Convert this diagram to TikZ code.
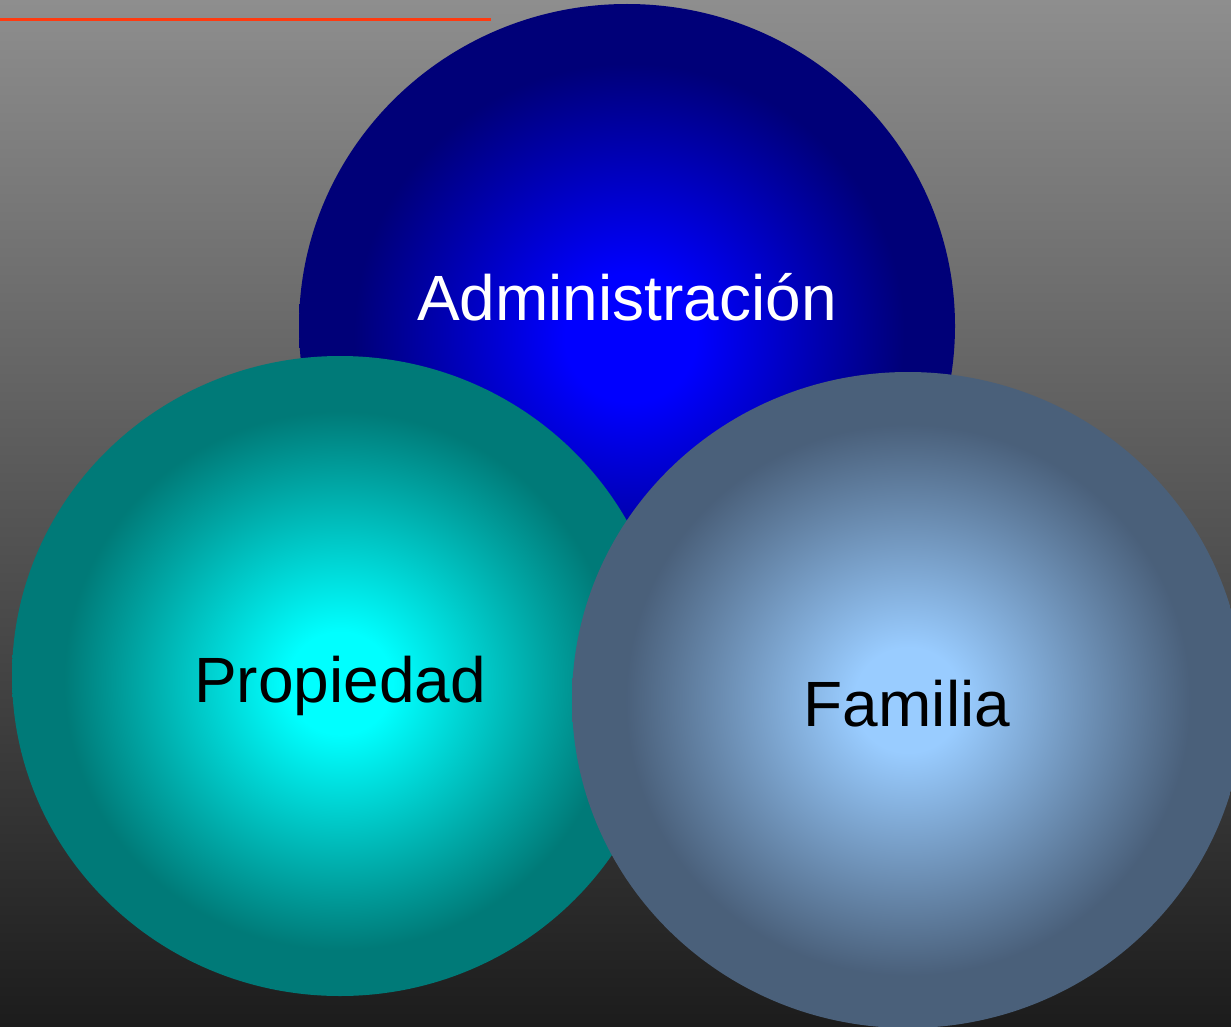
\documentclass[tikz,border=0pt]{standalone}
\usepackage{fontspec}
\setmainfont{Liberation Sans}
\pgfdeclareradialshading{blueball}{\pgfpoint{0.3bp}{-1bp}}{rgb(0bp)=(0,0,1); rgb(5bp)=(0,0,1); rgb(21bp)=(0,0,0.47); rgb(25bp)=(0,0,0.47); rgb(50bp)=(0,0,0.47)}
\pgfdeclareradialshading{tealball}{\pgfpoint{0bp}{-0.6bp}}{rgb(0bp)=(0,1,1); rgb(4bp)=(0,1,1); rgb(21bp)=(0,0.48,0.47); rgb(25bp)=(0,0.48,0.47); rgb(50bp)=(0,0.48,0.47)}
\pgfdeclareradialshading{greyball}{\pgfpoint{0bp}{0bp}}{rgb(0bp)=(0.6,0.8,1); rgb(4bp)=(0.6,0.8,1); rgb(21bp)=(0.29,0.376,0.48); rgb(25bp)=(0.29,0.376,0.48); rgb(50bp)=(0.29,0.376,0.48)}
\definecolor{bgtop}{HTML}{8E8E8E}
\definecolor{bgbot}{HTML}{1C1C1C}
\definecolor{redline}{HTML}{FF3A10}
\tikzset{
  lbl/.style={font=\fontsize{64}{70}\selectfont, anchor=base, inner sep=0pt},
}
\begin{document}
\begin{tikzpicture}[x=1pt,y=-1pt]
\fill[top color=bgtop, bottom color=bgbot] (0,0) rectangle (1231,1027);
\useasboundingbox (0,0) rectangle (1231,1027);
\draw[redline, line width=2.5pt] (0,19.5) -- (491,19.5);
\shade[shading=blueball] (627,326) ellipse [x radius=328, y radius=322];
\shade[shading=tealball] (340,676) ellipse [x radius=328, y radius=320];
\shade[shading=greyball] (908,700) ellipse [x radius=336, y radius=328];
\node[lbl, text=white] (adm) at (627,320) {Administración};
\node[lbl, text=black] (prop) at (340,702) {Propiedad};
\node[lbl, text=black] (fam) at (907,726) {Familia};
\end{tikzpicture}
\end{document}
